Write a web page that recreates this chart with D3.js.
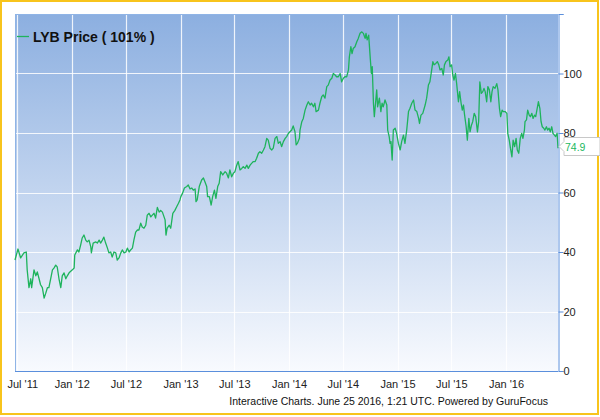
<!DOCTYPE html>
<html>
<head>
<meta charset="utf-8">
<script src="https://cdn.jsdelivr.net/npm/d3@7"></script>
<style>
  html, body { margin: 0; padding: 0; background: #fff; }
  svg { display: block; font-family: "Liberation Sans", Arial, sans-serif; }
</style>
</head>
<body>
<svg id="chart" width="600" height="417"></svg>
<script>
// price series
const dates = [
  '2011-06-24', '2011-07-04', '2011-07-13', '2011-07-24', '2011-08-01', '2011-08-04', '2011-08-10', '2011-08-16',
  '2011-08-19', '2011-08-27', '2011-09-02', '2011-09-07', '2011-09-13', '2011-09-18', '2011-09-24', '2011-09-30',
  '2011-10-05', '2011-10-11', '2011-10-16', '2011-10-22', '2011-10-28', '2011-11-02', '2011-11-08', '2011-11-13',
  '2011-11-19', '2011-11-25', '2011-11-30', '2011-12-06', '2011-12-12', '2011-12-17', '2011-12-23',
  '2012-01-03', '2012-01-09', '2012-01-11', '2012-01-20', '2012-01-25', '2012-01-31', '2012-02-05', '2012-02-11',
  '2012-02-17', '2012-02-22', '2012-02-28', '2012-03-05', '2012-03-07', '2012-03-13', '2012-03-22', '2012-03-27',
  '2012-04-02', '2012-04-07', '2012-04-13', '2012-04-18', '2012-04-24', '2012-04-30', '2012-05-05', '2012-05-11',
  '2012-05-16', '2012-05-22', '2012-05-28', '2012-06-02', '2012-06-08', '2012-06-14', '2012-06-19', '2012-06-25',
  '2012-07-01', '2012-07-06', '2012-07-12', '2012-07-17', '2012-07-23', '2012-07-28', '2012-08-03', '2012-08-09',
  '2012-08-14', '2012-08-20', '2012-08-25', '2012-08-31', '2012-09-06', '2012-09-11', '2012-09-17', '2012-09-23',
  '2012-09-28', '2012-10-04', '2012-10-09', '2012-10-15', '2012-10-21', '2012-10-26', '2012-11-01', '2012-11-10',
  '2012-11-13', '2012-11-17', '2012-11-24', '2012-11-29', '2012-12-06', '2012-12-13', '2012-12-19', '2012-12-25',
  '2012-12-30',
  '2013-01-02', '2013-01-08', '2013-01-14', '2013-01-22', '2013-01-27', '2013-02-02', '2013-02-08', '2013-02-13',
  '2013-02-19', '2013-02-22', '2013-02-26', '2013-03-05', '2013-03-13', '2013-03-19', '2013-03-24', '2013-03-30',
  '2013-04-02', '2013-04-08', '2013-04-14', '2013-04-19', '2013-04-25', '2013-04-30', '2013-05-06', '2013-05-11',
  '2013-05-16', '2013-05-23', '2013-05-31', '2013-06-05', '2013-06-11', '2013-06-16', '2013-06-22', '2013-06-28',
  '2013-07-03', '2013-07-09', '2013-07-14', '2013-07-20', '2013-07-26', '2013-07-31', '2013-08-06', '2013-08-12',
  '2013-08-17', '2013-08-23', '2013-08-28', '2013-09-03', '2013-09-09', '2013-09-14', '2013-09-20', '2013-09-25',
  '2013-10-01', '2013-10-07', '2013-10-12', '2013-10-18', '2013-10-23', '2013-10-29', '2013-11-04', '2013-11-09',
  '2013-11-15', '2013-11-21', '2013-11-26', '2013-12-02', '2013-12-07', '2013-12-13', '2013-12-19', '2013-12-24',
  '2013-12-30',
  '2014-01-04', '2014-01-10', '2014-01-15', '2014-01-21', '2014-01-25', '2014-01-29', '2014-02-05', '2014-02-07',
  '2014-02-13', '2014-02-18', '2014-02-24', '2014-03-02', '2014-03-07', '2014-03-13', '2014-03-18', '2014-03-24',
  '2014-03-29', '2014-04-02', '2014-04-10', '2014-04-15', '2014-04-21', '2014-04-26', '2014-05-02', '2014-05-08',
  '2014-05-13', '2014-05-19', '2014-05-25', '2014-05-30', '2014-06-05', '2014-06-10', '2014-06-16', '2014-06-22',
  '2014-06-27', '2014-07-03', '2014-07-08', '2014-07-14', '2014-07-20', '2014-07-23', '2014-07-28', '2014-08-01',
  '2014-08-05', '2014-08-11', '2014-08-17', '2014-08-22', '2014-08-28', '2014-09-03', '2014-09-08', '2014-09-14',
  '2014-09-17', '2014-09-21', '2014-09-26', '2014-10-01', '2014-10-05', '2014-10-08', '2014-10-12', '2014-10-15',
  '2014-10-20', '2014-10-23', '2014-10-26', '2014-11-01', '2014-11-06', '2014-11-10', '2014-11-14', '2014-11-20',
  '2014-11-26', '2014-11-29', '2014-12-04', '2014-12-07', '2014-12-10', '2014-12-14', '2014-12-18', '2014-12-24',
  '2014-12-29',
  '2015-01-04', '2015-01-10', '2015-01-15', '2015-01-21', '2015-01-26', '2015-02-01', '2015-02-07', '2015-02-12',
  '2015-02-18', '2015-02-24', '2015-03-01', '2015-03-07', '2015-03-13', '2015-03-16', '2015-03-21', '2015-03-27',
  '2015-04-04', '2015-04-09', '2015-04-15', '2015-04-20', '2015-04-26', '2015-04-30', '2015-05-04', '2015-05-10',
  '2015-05-15', '2015-05-20', '2015-05-24', '2015-05-30', '2015-06-04', '2015-06-08', '2015-06-13', '2015-06-19',
  '2015-06-23', '2015-06-27', '2015-07-02', '2015-07-06', '2015-07-10', '2015-07-15', '2015-07-19', '2015-07-25',
  '2015-07-29', '2015-08-03', '2015-08-07', '2015-08-11', '2015-08-14', '2015-08-20', '2015-08-24', '2015-08-29',
  '2015-09-02', '2015-09-07', '2015-09-11', '2015-09-16', '2015-09-21', '2015-09-27', '2015-10-01', '2015-10-05',
  '2015-10-10', '2015-10-15', '2015-10-19', '2015-10-23', '2015-10-28', '2015-11-01', '2015-11-06', '2015-11-11',
  '2015-11-15', '2015-11-19', '2015-11-25', '2015-12-01', '2015-12-05', '2015-12-10', '2015-12-14', '2015-12-19',
  '2015-12-23', '2015-12-29',
  '2016-01-04', '2016-01-07', '2016-01-12', '2016-01-16', '2016-01-21', '2016-01-25', '2016-01-30', '2016-02-04',
  '2016-02-08', '2016-02-13', '2016-02-18', '2016-02-23', '2016-02-27', '2016-03-03', '2016-03-05', '2016-03-10',
  '2016-03-14', '2016-03-19', '2016-03-23', '2016-03-28', '2016-04-01', '2016-04-06', '2016-04-10', '2016-04-15',
  '2016-04-19', '2016-04-24', '2016-04-28', '2016-05-02', '2016-05-07', '2016-05-11', '2016-05-16', '2016-05-20',
  '2016-05-25', '2016-05-29', '2016-06-03', '2016-06-07', '2016-06-12', '2016-06-16', '2016-06-21', '2016-06-24'
];

const prices = [
  37.3, 41, 38, 39.7, 40, 34, 28, 31,
  28, 34, 32, 33.3, 31, 29, 28, 24.5,
  26, 28, 28, 31, 34, 34.6, 35.6, 35,
  31, 28, 32, 33, 31, 32, 33,
  34, 34.6, 39, 40.7, 40, 42.4, 44.7, 45.7,
  44, 43.4, 44, 41.7, 39.7, 43, 43.4, 43,
  44, 43, 44, 45, 43, 41.3, 39.7, 40,
  38.3, 40, 39.7, 37.3, 38, 39.7, 40.7, 39.7,
  40, 41.3, 40, 40.7, 41.3, 44, 46.7, 47.4,
  47.4, 49.7, 48.4, 48, 49, 52.4, 53, 51.8,
  52.4, 53, 51.4, 55, 53.4, 54, 53.4, 50.8,
  45.7, 48, 49, 48, 53, 54, 55.2, 56.4,
  57.5,
  58.6, 59.8, 61.5, 62, 62.5, 61.2, 61.5, 60.8,
  61.2, 56.9, 57.5, 62, 64.2, 64.9, 63.6, 62,
  58.6, 58.6, 55.8, 58.6, 60.8, 58, 62, 63.1,
  67, 65.9, 67, 66.5, 64.9, 67.6, 65.3, 66.5,
  67, 69.2, 70.4, 67.6, 68.1, 68.7, 68.1, 69.2,
  68.1, 69.2, 69.8, 70.4, 70.4, 71.5, 73.2, 73.7,
  73.2, 74.3, 75.4, 78.2, 77.6, 74.9, 74.3, 74.9,
  78.2, 78.8, 76.5, 77.1, 75.4, 77.1, 78.2, 78.8,
  79.9,
  80.4, 81, 82.4, 80.4, 76, 76.5, 78.2, 81,
  83.8, 84.9, 87.7, 89.4, 90.5, 89.4, 90, 88.8,
  90, 87.2, 87.7, 90, 92.2, 92.8, 91.7, 95.6,
  96.1, 97.8, 98.4, 100, 99.5, 98.9, 98.9, 100,
  97.2, 98.4, 98.9, 98.9, 101.2, 105.6, 109, 106.7,
  108.4, 109, 110.7, 111.8, 113.5, 114, 113.5, 111.8,
  113.5, 111.3, 112.9, 105.6, 100, 102.3, 90, 85.5,
  91.1, 94.5, 88.8, 91.7, 87.2, 90, 88.8, 91.1,
  89.4, 81, 78.8, 76.5, 77.1, 70.9, 81, 81.6,
  79.9,
  76.5, 74.3, 77.1, 79.3, 76.5, 81, 87.2, 88.3,
  90, 91.1, 87.7, 87.2, 84.9, 83.2, 86, 86.6,
  89.4, 91.7, 96.1, 97.2, 101.2, 104, 102.9, 103.4,
  104, 102.9, 101.2, 101.7, 99.5, 102.9, 104, 104.5,
  105.6, 102.3, 102.9, 99.5, 97.8, 100, 96.6, 90.5,
  93.9, 90, 87.7, 89.4, 86.6, 82.1, 77.6, 84.9,
  80.4, 82.7, 83.8, 86.6, 85.5, 80.4, 83.8, 97.2,
  93.3, 93.9, 95, 93.9, 90.5, 95.6, 94.5, 90.5,
  93.9, 95.6, 95, 96.6, 94.5, 88.3, 85.5, 87.7,
  87.2, 87.2,
  86.6, 79.9, 77.6, 74.9, 72, 77.6, 75.4, 78.2,
  74.3, 73.2, 78.2, 79.9, 78.2, 81, 83.8, 84.4,
  87.7, 86, 85.5, 86.6, 84.9, 86, 85.5, 88.3,
  90.5, 88.3, 83.8, 82.1, 81.6, 81, 82.1, 81,
  81.6, 80.4, 82.1, 79.9, 79.3, 78.8, 79.9, 74.9
];

const xTickDates = ['2011-07-01', '2012-01-01', '2012-07-01', '2013-01-01', '2013-07-01',
  '2014-01-01', '2014-07-01', '2015-01-01', '2015-07-01', '2016-01-01'];
const xTickLabels = ["Jul '11", "Jan '12", "Jul '12", "Jan '13", "Jul '13",
  "Jan '14", "Jul '14", "Jan '15", "Jul '15", "Jan '16"];
const yTicks = [0, 20, 40, 60, 80, 100, 120];
const xDomain = ['2011-06-24', '2016-06-24'];

const seriesName = 'LYB Price ( 101% )';
const footerText = 'Interactive Charts. June 25 2016, 1:21 UTC. Powered by GuruFocus';

const width = 600;
const height = 417;
const margin = { top: 14, right: 42, bottom: 46, left: 15 };
const lineColor = '#1eb35c';
const axisColor = '#5b8fdc';

const parse = d3.timeParse('%Y-%m-%d');
const data = dates.map((d, i) => ({ date: parse(d), value: prices[i] }));

const svg = d3.select('#chart');

const x = d3.scaleTime()
  .domain(xDomain.map(parse))
  .range([margin.left, width - margin.right]);

const y = d3.scaleLinear()
  .domain([0, 120])
  .range([height - margin.bottom, margin.top]);

// background gradient of the plot area
const grad = svg.append('defs').append('linearGradient')
  .attr('id', 'bg').attr('x1', 0).attr('y1', 0).attr('x2', 0).attr('y2', 1);
grad.append('stop').attr('offset', '0%').attr('stop-color', '#8cafe0');
grad.append('stop').attr('offset', '100%').attr('stop-color', '#f8fafe');

svg.append('rect')
  .attr('x', margin.left)
  .attr('y', margin.top)
  .attr('width', width - margin.left - margin.right)
  .attr('height', height - margin.top - margin.bottom)
  .attr('fill', 'url(#bg)');

// grid
const grid = svg.append('g').attr('stroke', '#fff').attr('stroke-opacity', 0.85).attr('stroke-width', 1.2);
grid.selectAll('.hgrid')
  .data(yTicks.filter((t) => t > 0 && t < 120))
  .join('line')
  .attr('x1', margin.left).attr('x2', width - margin.right)
  .attr('y1', (d) => Math.round(y(d)) + 0.5).attr('y2', (d) => Math.round(y(d)) + 0.5);
grid.selectAll('.vgrid')
  .data(xTickDates.map(parse))
  .join('line')
  .attr('x1', (d) => Math.round(x(d)) + 0.5).attr('x2', (d) => Math.round(x(d)) + 0.5)
  .attr('y1', margin.top).attr('y2', height - margin.bottom);

// plot frame (left + top)
svg.append('path')
  .attr('d', `M${margin.left + 0.5},${height - margin.bottom}V${margin.top + 0.5}H${width - margin.right}`)
  .attr('fill', 'none')
  .attr('stroke', '#8fb4e6');

// the price line
const line = d3.line()
  .x((d) => x(d.date))
  .y((d) => y(d.value));

svg.append('path')
  .datum(data)
  .attr('fill', 'none')
  .attr('stroke', lineColor)
  .attr('stroke-width', 1.3)
  .attr('stroke-linejoin', 'round')
  .attr('d', line);

// right axis
const yAxis = svg.append('g')
  .attr('transform', `translate(${width - margin.right + 0.5},0)`)
  .call(d3.axisRight(y).tickValues(yTicks).tickSize(5).tickPadding(0)
    .tickFormat((d) => (d === 120 ? '' : d)));
yAxis.select('.domain').attr('stroke', axisColor);
yAxis.selectAll('.tick line').attr('stroke', axisColor);
yAxis.selectAll('.tick text')
  .attr('font-size', 11)
  .attr('font-family', '"Liberation Sans", Arial, sans-serif')
  .attr('fill', '#222');

// bottom axis
const xAxis = svg.append('g')
  .attr('transform', `translate(0,${height - margin.bottom + 0.5})`)
  .call(d3.axisBottom(x).tickValues(xTickDates.map(parse)).tickSize(0).tickPadding(9)
    .tickFormat((d, i) => xTickLabels[i]));
xAxis.select('.domain').attr('stroke', axisColor).attr('d', `M${margin.left},0H${width - margin.right}`);
xAxis.selectAll('.tick text')
  .attr('font-size', 11)
  .attr('font-family', '"Liberation Sans", Arial, sans-serif')
  .attr('fill', '#222');

// keep the first label inside the frame
xAxis.selectAll('.tick text').each(function (d, i) {
  if (i === 0) {
    const w = this.getComputedTextLength();
    const left = x(d) - w / 2;
    if (left < 7) d3.select(this).attr('dx', 7 - left);
  }
});

// legend
const legend = svg.append('g');
legend.append('line')
  .attr('x1', 17).attr('x2', 29).attr('y1', 36.5).attr('y2', 36.5)
  .attr('stroke', lineColor).attr('stroke-width', 1.3);
legend.append('text')
  .attr('x', 33).attr('y', 41.5)
  .attr('font-size', 14).attr('font-weight', 'bold').attr('fill', '#111')
  .text(seriesName);

// footer
svg.append('text')
  .attr('x', 548).attr('y', 405)
  .attr('text-anchor', 'end')
  .attr('font-size', 10.5)
  .attr('fill', '#111')
  .text(footerText);

// outer frame
svg.append('rect')
  .attr('x', 1).attr('y', 1)
  .attr('width', width - 3).attr('height', height - 4)
  .attr('fill', 'none')
  .attr('stroke', '#f8c41c')
  .attr('stroke-width', 2);

// last price flag
const last = data[data.length - 1];
const ly = Math.round(y(last.value)) - 1.5;
const lx = width - margin.right + 1;
svg.append('path')
  .attr('d', `M${lx},${ly}L${lx + 5},${ly - 5}V${ly - 9}H${width}V${ly + 9}H${lx + 5}V${ly + 5}Z`)
  .attr('fill', '#fff')
  .attr('stroke', '#c8c8c8');
svg.append('text')
  .attr('x', lx + 6).attr('y', ly + 4)
  .attr('font-size', 10.5)
  .attr('fill', '#22b85e')
  .text(last.value.toFixed(1));
</script>
</body>
</html>
